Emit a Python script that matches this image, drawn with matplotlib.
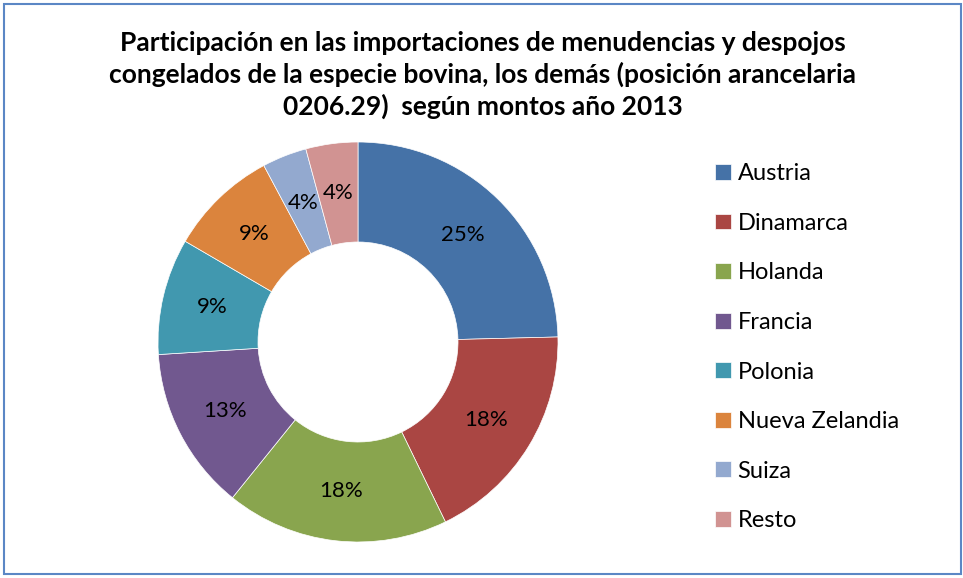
import matplotlib.pyplot as plt
from matplotlib.patches import Rectangle

# Data
countries = ['Austria', 'Dinamarca', 'Holanda', 'Francia', 'Polonia',
             'Nueva Zelandia', 'Suiza', 'Resto']
shares = [24.6, 18.2, 18.0, 13.2, 9.4, 8.8, 3.6, 4.2]
colors = ['#4572A7', '#AA4643', '#89A54E', '#71588F', '#4198AF',
          '#DB843D', '#93A9CF', '#D19392']

title = ('Participación en las importaciones de menudencias y despojos\n'
         'congelados de la especie bovina, los demás (posición arancelaria\n'
         '0206.29)  según montos año 2013')

plt.rcParams['font.family'] = ['Lato', 'DejaVu Sans']

W, H = 963, 578
fig = plt.figure(figsize=(W / 100, H / 100), dpi=100)

# Outer border of the chart area
fig.patches.append(Rectangle((4 / W, 4 / H), (961 - 4) / W, (574 - 4) / H,
                             transform=fig.transFigure, fill=False,
                             edgecolor='#5B87C5', linewidth=1.5))

# Donut: centre (358, 342) px, radius 200 px
ax = fig.add_axes([(358 - 200) / W, (H - 542) / H, 400 / W, 400 / H])
wedges, texts, autotexts = ax.pie(
    shares, colors=colors, startangle=90, counterclock=False,
    radius=1.0, wedgeprops=dict(width=0.5, edgecolor='white', linewidth=0.5),
    autopct='%1.0f%%', pctdistance=0.75,
    textprops=dict(fontsize=16, color='black'))
ax.set_xlim(-1, 1)
ax.set_ylim(-1, 1)
ax.set_aspect('equal')

# Title
fig.text(0.5 * (120 + 845) / W, 1 - 75 / H, title, ha='center', va='center',
         fontsize=19, fontweight='bold', linespacing=1.3)

# Legend
fig.legend(wedges, countries, loc='upper left',
           bbox_to_anchor=(694 / W, 1 - 142 / H), frameon=False,
           fontsize=17, labelspacing=1.21, handlelength=0.65,
           handleheight=0.65, handletextpad=0.3)

plt.savefig('out.png', dpi=100)
